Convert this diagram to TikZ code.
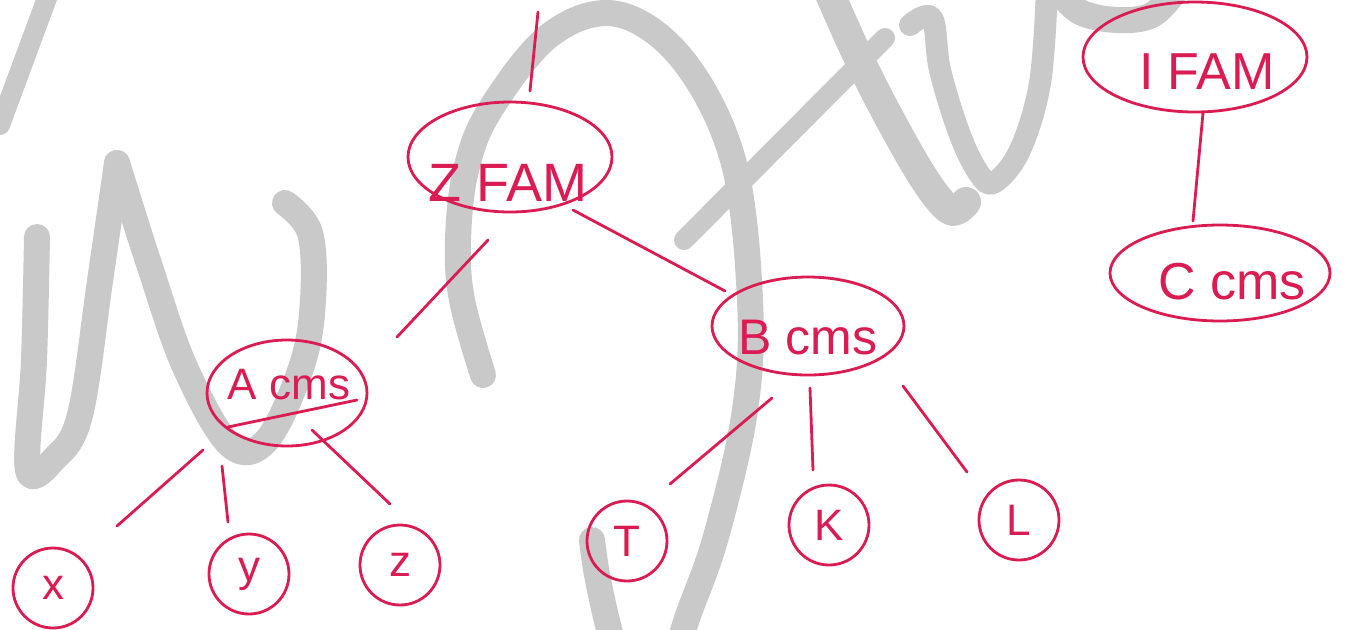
\documentclass[tikz,border=0pt]{standalone}
\usepackage{fontspec}
\setmainfont{Liberation Sans}
\usetikzlibrary{shapes.geometric}
\definecolor{ink}{RGB}{218,28,82}
\definecolor{wm}{RGB}{201,201,201}

\begin{document}
\begin{tikzpicture}[x=0.5pt,y=-0.5pt,
  famnode/.style={ellipse, draw=ink, line width=1.4pt, inner sep=0pt},
  famtext/.style={text=ink, inner sep=0pt, font=\fontsize{#1}{#1}\selectfont},
  leaf/.style={circle, draw=ink, line width=1.4pt, inner sep=0pt, minimum size=40pt,
               text=ink, font=\fontsize{22}{22}\selectfont},
  link/.style={draw=ink, line width=1.4pt, line cap=round},
  wmstroke/.style={draw=wm, line width=13pt, line cap=round, line join=round}]

\useasboundingbox (0,0) rectangle (1346,629);
\fill[white] (0,0) rectangle (1346,629);

% faint background lettering
\begin{scope}
  \clip (0,0) rectangle (1346,629);
  \draw[wmstroke, line width=10pt] (50,-10) -- (0,125);
  \draw[wmstroke] plot[smooth, tension=0.6] coordinates
    {(37,237) (34,360) (28,470) (55,458) (80,415) (100,281) (117,163)};
  \draw[wmstroke] plot[smooth, tension=0.6] coordinates
    {(117,163) (150,267) (185,367) (230,445) (267,440) (302,365) (313,300) (310,233) (285,203)};
  \draw[wmstroke] plot[smooth, tension=0.6] coordinates
    {(483,375) (462,300) (458,240) (466,170) (490,110) (550,35) (617,14) (683,60)
     (733,160) (750,300) (745,410) (717,533) (690,610) (670,660) (630,690) (612,640) (598,580) (592,540)};
  \draw[wmstroke, line width=10pt] (684,240) -- (885,38);
  \draw[wmstroke, line width=15pt] plot[smooth, tension=0.6] coordinates
    {(826,-15) (855,50) (885,110) (923,177) (950,210) (966,202)};
  \draw[wmstroke, line width=11pt] plot[smooth, tension=0.6] coordinates
    {(910,25) (932,18) (940,70) (960,135) (980,175) (995,182) (1020,150) (1040,83) (1047,-10)};
  \draw[wmstroke] plot[smooth, tension=0.6] coordinates
    {(1058,-10) (1080,12) (1117,20) (1152,15) (1176,-10)};
\end{scope}

% family and category nodes
\node[famnode, minimum width=102pt, minimum height=55pt] (zfam) at (510,157) {};
\node[famnode, minimum width=112pt, minimum height=55pt] (ifam) at (1195,57) {};
\node[famnode, minimum width=80pt, minimum height=53pt] (acms) at (287,393) {};
\node[famnode, minimum width=96pt, minimum height=49pt] (bcms) at (808,326) {};
\node[famnode, minimum width=110pt, minimum height=48pt] (ccms) at (1220,273) {};

\node[famtext=27] (zlab) at (508,183) {Z FAM};
\node[famtext=26] (ilab) at (1207,72) {I FAM};
\node[famtext=22] (alab) at (289,385) {A cms};
\node[famtext=25] (blab) at (808,338) {B cms};
\node[famtext=26] (clab) at (1232,282) {C cms};

% leaves
\node[leaf] (x) at (53,588) {x};
\node[leaf] (y) at (249,574) {y};
\node[leaf] (z) at (400,565) {z};
\node[leaf] (t) at (627,541) {T};
\node[leaf] (k) at (829,525) {K};
\node[leaf] (l) at (1019,520) {L};

% underline inside A cms
\draw[link] ([shift={(-59,34)}]acms.center) -- ([shift={(70,7)}]acms.center);

% connectors
\coordinate (ztop) at (538,12);
\draw[link] (ztop) -- ([shift={(20,-66)}]zfam.center);
\draw[link] ([shift={(-22,83)}]zfam.center) -- ([shift={(110,-56)}]acms.center);
\draw[link] ([shift={(63,53)}]zfam.center) -- ([shift={(-83,-35)}]bcms.center);
\draw[link] ([shift={(8,56)}]ifam.center) -- ([shift={(-27,-52)}]ccms.center);
\draw[link] ([shift={(-84,57)}]acms.center) -- ([shift={(64,-62)}]x.center);
\draw[link] ([shift={(-65,73)}]acms.center) -- ([shift={(-21,-52)}]y.center);
\draw[link] ([shift={(25,37)}]acms.center) -- ([shift={(-10,-61)}]z.center);
\draw[link] ([shift={(-36,72)}]bcms.center) -- ([shift={(43,-57)}]t.center);
\draw[link] ([shift={(2,62)}]bcms.center) -- ([shift={(-16,-55)}]k.center);
\draw[link] ([shift={(95,60)}]bcms.center) -- ([shift={(-52,-48)}]l.center);
\end{tikzpicture}
\end{document}
